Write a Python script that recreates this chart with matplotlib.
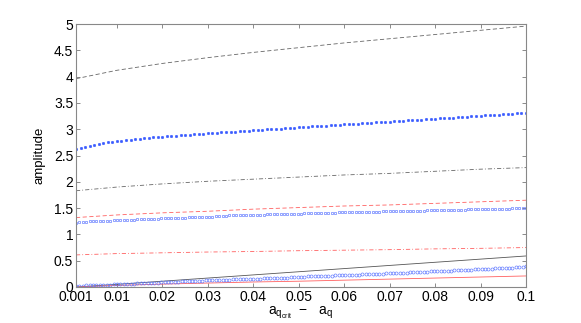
import numpy as np
import matplotlib
matplotlib.use("Agg")
import matplotlib.pyplot as plt

plt.rcParams['font.family'] = ['Liberation Sans', 'DejaVu Sans']
plt.rcParams['mathtext.fontset'] = 'custom'
plt.rcParams['mathtext.rm'] = 'Liberation Sans'
plt.rcParams['mathtext.it'] = 'Liberation Sans'

# knot x positions for line series
x_knots = [0.001, 0.01, 0.02, 0.03, 0.04, 0.05, 0.06, 0.07, 0.08, 0.09, 0.1]
black_dashed = [3.96, 4.12, 4.25, 4.36, 4.46, 4.55, 4.64, 4.72, 4.80, 4.88, 4.96]
black_dashdot = [1.83, 1.90, 1.96, 2.01, 2.05, 2.09, 2.13, 2.16, 2.20, 2.24, 2.27]
red_dashed = [1.32, 1.37, 1.41, 1.44, 1.48, 1.51, 1.54, 1.56, 1.59, 1.62, 1.65]
red_dashdot = [0.61, 0.635, 0.65, 0.665, 0.675, 0.69, 0.70, 0.71, 0.725, 0.735, 0.75]
black_solid = [0.0, 0.05, 0.11, 0.17, 0.23, 0.29, 0.35, 0.41, 0.47, 0.53, 0.59]
red_solid = [0.0, 0.03, 0.055, 0.075, 0.095, 0.11, 0.13, 0.15, 0.17, 0.19, 0.21]

# filled blue dots: 100 samples from 0.001 to 0.1
blue_dots = [
    2.620, 2.650, 2.670, 2.690, 2.705, 2.720, 2.735, 2.748, 2.760, 2.770,
    2.780, 2.790, 2.800, 2.809, 2.818, 2.827, 2.835, 2.843, 2.851, 2.860,
    2.866, 2.872, 2.878, 2.884, 2.890, 2.896, 2.902, 2.908, 2.914, 2.920,
    2.926, 2.932, 2.938, 2.944, 2.950, 2.956, 2.962, 2.968, 2.974, 2.980,
    2.986, 2.991, 2.997, 3.002, 3.008, 3.013, 3.019, 3.024, 3.030, 3.035,
    3.041, 3.046, 3.052, 3.057, 3.063, 3.068, 3.074, 3.079, 3.085, 3.090,
    3.096, 3.101, 3.107, 3.112, 3.118, 3.123, 3.129, 3.134, 3.140, 3.145,
    3.151, 3.156, 3.162, 3.167, 3.173, 3.178, 3.184, 3.189, 3.195, 3.200,
    3.206, 3.211, 3.217, 3.222, 3.228, 3.233, 3.239, 3.244, 3.250, 3.255,
    3.261, 3.266, 3.272, 3.277, 3.283, 3.288, 3.294, 3.299, 3.305, 3.310,
]

# open blue markers: 133 samples from 0.001 to 0.1
blue_open_upper = [
    1.22, 1.23, 1.24, 1.24, 1.25, 1.25, 1.25, 1.26, 1.26, 1.26, 1.26, 1.27, 1.27,
    1.27, 1.27, 1.28, 1.28, 1.28, 1.29, 1.29, 1.29, 1.30, 1.30, 1.30, 1.30, 1.31,
    1.31, 1.31, 1.31, 1.32, 1.32, 1.32, 1.32, 1.33, 1.33, 1.33, 1.33, 1.34, 1.34,
    1.34, 1.34, 1.35, 1.35, 1.35, 1.35, 1.36, 1.36, 1.36, 1.36, 1.36, 1.37, 1.37, 1.37,
    1.37, 1.37, 1.37, 1.38, 1.38, 1.38, 1.38, 1.38, 1.38, 1.39, 1.39, 1.39, 1.39,
    1.39, 1.40, 1.40, 1.40, 1.40, 1.40, 1.41, 1.41, 1.41, 1.41, 1.41, 1.42, 1.42,
    1.42, 1.42, 1.42, 1.42, 1.42, 1.43, 1.43, 1.43, 1.43, 1.43, 1.43, 1.44, 1.44, 1.44,
    1.44, 1.44, 1.44, 1.44, 1.45, 1.45, 1.45, 1.45, 1.45, 1.45, 1.46, 1.46, 1.46,
    1.46, 1.46, 1.46, 1.47, 1.47, 1.47, 1.47, 1.47, 1.47, 1.48, 1.48, 1.48, 1.48,
    1.48, 1.48, 1.48, 1.49, 1.49, 1.49, 1.49, 1.49, 1.49, 1.50, 1.50, 1.50, 1.50, 1.50,
]
blue_open_lower = [
    0.02, 0.02, 0.02, 0.03, 0.03, 0.03, 0.03, 0.04, 0.04, 0.04, 0.04, 0.05, 0.05,
    0.05, 0.05, 0.06, 0.06, 0.06, 0.07, 0.07, 0.07, 0.08, 0.08, 0.08, 0.08, 0.09,
    0.09, 0.09, 0.10, 0.10, 0.10, 0.11, 0.11, 0.11, 0.12, 0.12, 0.12, 0.12, 0.13,
    0.13, 0.13, 0.13, 0.14, 0.14, 0.14, 0.14, 0.15, 0.15, 0.15, 0.15, 0.16, 0.16, 0.16,
    0.16, 0.16, 0.17, 0.17, 0.17, 0.17, 0.18, 0.18, 0.18, 0.18, 0.19, 0.19, 0.19,
    0.19, 0.19, 0.20, 0.20, 0.20, 0.20, 0.21, 0.21, 0.21, 0.21, 0.22, 0.22, 0.22,
    0.22, 0.23, 0.23, 0.23, 0.23, 0.24, 0.24, 0.24, 0.24, 0.25, 0.25, 0.25, 0.26, 0.26,
    0.26, 0.26, 0.27, 0.27, 0.27, 0.28, 0.28, 0.28, 0.29, 0.29, 0.29, 0.30, 0.30,
    0.30, 0.30, 0.31, 0.31, 0.31, 0.32, 0.32, 0.32, 0.33, 0.33, 0.33, 0.34, 0.34,
    0.34, 0.35, 0.35, 0.35, 0.36, 0.36, 0.36, 0.37, 0.37, 0.37, 0.38, 0.38, 0.38, 0.39,
]

x_ticks = [0.001, 0.01, 0.02, 0.03, 0.04, 0.05, 0.06, 0.07, 0.08, 0.09, 0.1]
x_tick_labels = ['0.001', '0.01', '0.02', '0.03', '0.04', '0.05', '0.06', '0.07', '0.08', '0.09', '0.1']
y_ticks = [0, 0.5, 1, 1.5, 2, 2.5, 3, 3.5, 4, 4.5, 5]
y_tick_labels = ['0', '0.5', '1', '1.5', '2', '2.5', '3', '3.5', '4', '4.5', '5']

x_dots = np.linspace(0.001, 0.1, len(blue_dots))
x_open = np.linspace(0.001, 0.1, len(blue_open_upper))

fig = plt.figure(figsize=(5.81, 3.23), dpi=100)
ax = fig.add_axes([76 / 581, 1 - 287 / 323, 450 / 581, 263 / 323])

lw = 0.6
ax.plot(x_knots, black_dashed, color='#666666', lw=lw, dashes=(5, 3))
ax.plot(x_knots, black_dashdot, color='#666666', lw=lw, dashes=(5, 2.5, 1, 2.5))
ax.plot(x_knots, red_dashed, color='#ff6060', lw=lw, dashes=(5, 3))
ax.plot(x_knots, red_dashdot, color='#ff6060', lw=lw, dashes=(5, 2.5, 1, 2.5))
ax.plot(x_knots, black_solid, color='#555555', lw=lw)
ax.plot(x_knots, red_solid, color='#ff6060', lw=lw)

ax.plot(x_dots, blue_dots, linestyle='none', marker='o', markersize=1.9,
        markerfacecolor='#3a5cff', markeredgecolor='#3a5cff', markeredgewidth=0.3)
ax.plot(x_open, blue_open_upper, linestyle='none', marker='s', markersize=2.0,
        markerfacecolor='none', markeredgecolor='#5a74ff', markeredgewidth=0.45)
ax.plot(x_open, blue_open_lower, linestyle='none', marker='o', markersize=2.2,
        markerfacecolor='none', markeredgecolor='#5a74ff', markeredgewidth=0.45)

ax.set_xlim(0.001, 0.1)
ax.set_ylim(0, 5)
ax.set_xticks(x_ticks)
ax.set_xticklabels(x_tick_labels)
ax.set_yticks(y_ticks)
ax.set_yticklabels(y_tick_labels)
ax.tick_params(direction='in', top=True, right=True, length=3, width=0.6,
               colors='#777777', labelcolor='black', labelsize=10, pad=2)
for s in ax.spines.values():
    s.set_color('#888888')
    s.set_linewidth(0.8)

ax.set_ylabel('amplitude', fontsize=9.5, labelpad=6)
ax.set_xlabel(r'$\mathrm{a_{q_{crit}}}\ \ \mathrm{-}\ \ \ \mathrm{a_q}$', fontsize=10, labelpad=1)

fig.savefig('out.png', dpi=100)
